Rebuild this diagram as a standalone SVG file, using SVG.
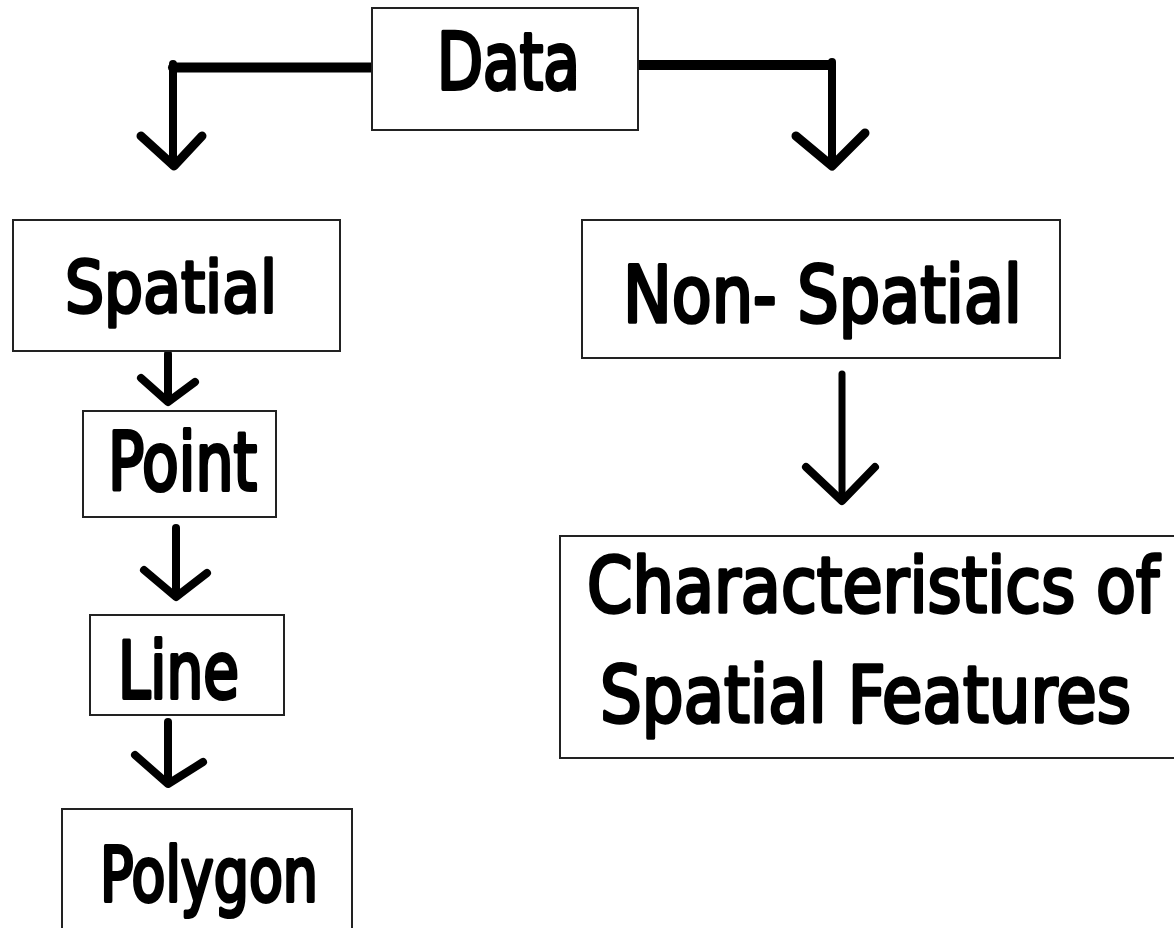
<svg xmlns="http://www.w3.org/2000/svg" width="1174" height="928" viewBox="0 0 1174 928">
<style>
.box{fill:#fff;stroke:#222;stroke-width:2}
.lbl{font-family:"DejaVu Sans","Liberation Sans",sans-serif;fill:#000;stroke:#000;stroke-width:3;stroke-linejoin:round}
.con{fill:none;stroke:#000;stroke-linecap:round;stroke-linejoin:round}
</style>
<rect width="1174" height="928" fill="#fff"/>
<g id="connectors">
<path class="con" d="M372,67.5 H173" stroke-width="10" stroke-linecap="butt"/>
<path class="con" d="M173,64 V165" stroke-width="8"/>
<polyline class="con" points="141,136 174,166 202,136" stroke-width="9"/>
<path class="con" d="M638,65 H831" stroke-width="10" stroke-linecap="butt"/>
<path class="con" d="M832,62 V165" stroke-width="8"/>
<polyline class="con" points="796,136 832,166 865,133" stroke-width="9"/>
<path class="con" d="M168,354 V401" stroke-width="8"/>
<polyline class="con" points="141,378 168,402 195,382" stroke-width="8"/>
<path class="con" d="M176,528 V596" stroke-width="8"/>
<polyline class="con" points="144,570 176,597 207,573" stroke-width="8"/>
<path class="con" d="M168,722 V783" stroke-width="8"/>
<polyline class="con" points="135,755 168,784 203,762" stroke-width="8"/>
<path class="con" d="M842,374 V500" stroke-width="7"/>
<polyline class="con" points="806,467 842,501 875,467" stroke-width="8"/>
</g>
<g id="node-data">
<rect class="box" x="372" y="8" width="266" height="122"/>
<g transform="translate(437,89) scale(1,1.28)"><text class="lbl" x="0" y="0" font-size="61" textLength="143" lengthAdjust="spacingAndGlyphs">Data</text></g>
</g>
<g id="node-spatial">
<rect class="box" x="13" y="220" width="327" height="131"/>
<g transform="translate(65,312) scale(1,1.12)"><text class="lbl" x="0" y="0" font-size="63" textLength="212" lengthAdjust="spacingAndGlyphs">Spatial</text></g>
</g>
<g id="node-point">
<rect class="box" x="83" y="411" width="193" height="106"/>
<g transform="translate(108,490) scale(1,1.32)"><text class="lbl" x="0" y="0" font-size="61" textLength="149" lengthAdjust="spacingAndGlyphs">Point</text></g>
</g>
<g id="node-line">
<rect class="box" x="90" y="615" width="194" height="100"/>
<g transform="translate(118,698) scale(1,1.3)"><text class="lbl" x="0" y="0" font-size="60" textLength="121" lengthAdjust="spacingAndGlyphs">Line</text></g>
</g>
<g id="node-polygon">
<rect class="box" x="62" y="809" width="290" height="140"/>
<g transform="translate(100,901) scale(1,1.32)"><text class="lbl" x="0" y="0" font-size="56" textLength="218" lengthAdjust="spacingAndGlyphs">Polygon</text></g>
</g>
<g id="node-nonspatial">
<rect class="box" x="582" y="220" width="478" height="138"/>
<g transform="translate(623,322) scale(1,1.2)"><text class="lbl" x="0" y="0" font-size="66" textLength="399" lengthAdjust="spacingAndGlyphs">Non- Spatial</text></g>
</g>
<g id="node-characteristics">
<rect class="box" x="560" y="536" width="630" height="222"/>
<g transform="translate(587,612) scale(1,1.16)"><text class="lbl" x="0" y="0" font-size="66" textLength="572" lengthAdjust="spacingAndGlyphs">Characteristics of</text></g>
<g transform="translate(600,722) scale(1,1.19)"><text class="lbl" x="0" y="0" font-size="66" textLength="531" lengthAdjust="spacingAndGlyphs">Spatial Features</text></g>
</g>
</svg>
